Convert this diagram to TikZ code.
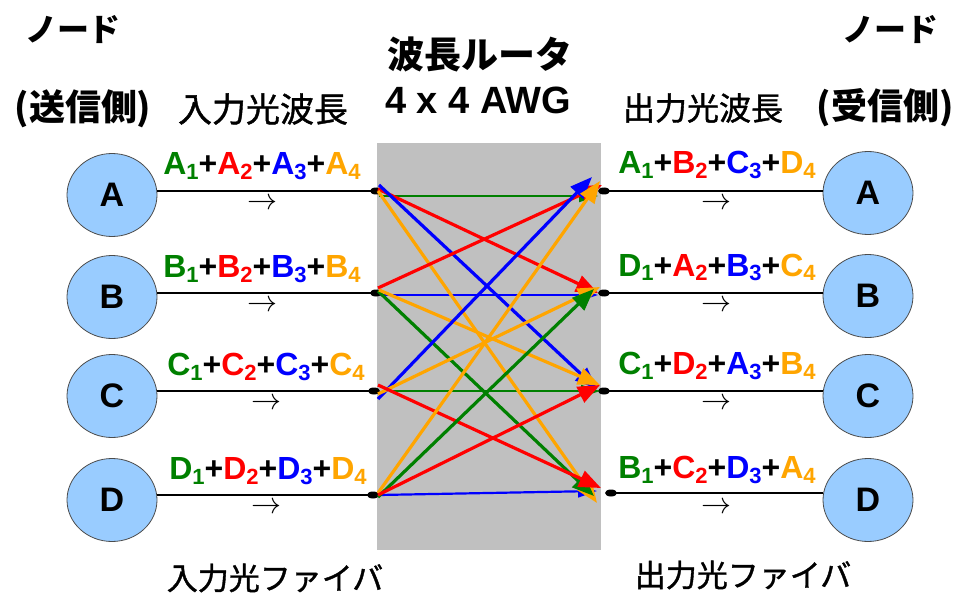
\documentclass[tikz,border=0pt]{standalone}
\usepackage{fix-cm}
\usepackage{fontspec}
\setmainfont{Liberation Sans}
\newfontfamily\jp{Noto Sans CJK JP}
\newfontfamily\jpm[FakeBold=1.2]{Noto Sans CJK JP}
\usetikzlibrary{arrows.meta,shapes.geometric}
\definecolor{cg}{HTML}{008000}
\definecolor{cr}{HTML}{FF0000}
\definecolor{cb}{HTML}{0000FF}
\definecolor{co}{HTML}{FFA500}
\definecolor{nodeblue}{HTML}{99CCFF}
\definecolor{boxgray}{HTML}{C0C0C0}
\newcommand{\wv}[3]{\textcolor{#1}{#2\raisebox{-5pt}{\fontsize{22}{22}\selectfont #3}}}
\newcommand{\pl}{\textcolor{black}{+}}
\tikzset{
  nodeell/.style={ellipse, draw=black!70, line width=0.8pt, fill=nodeblue, minimum width=90pt, minimum height=83pt, inner sep=0pt, font=\fontsize{34}{34}\selectfont\bfseries},
  fiber/.style={line width=1.6pt, black},
  conn/.style={ellipse, fill=black, minimum width=12pt, minimum height=7pt, inner sep=0pt},
  route/.style={line width=3.2pt, -{Triangle[length=22pt,width=17pt]}},
  flat/.style={line width=2.2pt, -{Triangle[length=19pt,width=12pt]}},
  wl/.style={font=\fontsize{32}{32}\selectfont\bfseries, inner sep=0pt, anchor=base},
  dirarrow/.style={font=\fontsize{30}{30}\selectfont, inner sep=0pt},
  jpb/.style={font=\jp\bfseries\fontsize{32}{32}\selectfont, inner sep=0pt},
  jpr/.style={font=\jpm\fontsize{32}{32}\selectfont, inner sep=0pt},
}
\begin{document}
\begin{tikzpicture}[x=1pt,y=-1pt]
\useasboundingbox (0,0) rectangle (970,599);
% router box
\fill[boxgray] (377,143) rectangle (601,550);
% headings
\node[jpb] (nodeL) at (73,30) {ノード};
\node[jpb, font=\jp\bfseries\fontsize{36}{36}\selectfont] (sendL) at (83,109) {(送信側)};
\node[jpr, font=\jpm\fontsize{34}{34}\selectfont] (inwl) at (263,109) {入力光波長};
\node[jpb, font=\jp\bfseries\fontsize{37}{37}\selectfont] (router) at (480,54) {波長ルータ};
\node[inner sep=0pt, font=\fontsize{38}{38}\selectfont\bfseries] (awg) at (478,100) {4 x 4 AWG};
\node[jpb] (nodeR) at (890,30) {ノード};
\node[jpr] (outwl) at (703,108) {出力光波長};
\node[jpb, font=\jp\bfseries\fontsize{36}{36}\selectfont] (recvR) at (885,108) {(受信側)};
\node[jpr, font=\jpm\fontsize{31}{31}\selectfont] (infib) at (275,578) {入力光ファイバ};
\node[jpr, font=\jpm\fontsize{31}{31}\selectfont] (outfib) at (743,575) {出力光ファイバ};
% nodes
\node[nodeell] (LA) at (112,195) {A};
\node[nodeell] (LB) at (112,297) {B};
\node[nodeell] (LC) at (112,396) {C};
\node[nodeell] (LD) at (112,500) {D};
\node[nodeell] (RA) at (868,193) {A};
\node[nodeell] (RB) at (868,296) {B};
\node[nodeell] (RC) at (868,396) {C};
\node[nodeell] (RD) at (868,500) {D};
% connectors
\node[conn] (iA) at (376,191) {};
\node[conn] (iB) at (376,293) {};
\node[conn] (iC) at (374,391) {};
\node[conn] (iD) at (373,495) {};
\node[conn] (oA) at (604,191) {};
\node[conn] (oB) at (604,293) {};
\node[conn] (oC) at (604,391) {};
\node[conn] (oD) at (611,493) {};
% fibers
\foreach \n in {A,B,C,D}{
  \draw[fiber] (i\n.center) -- (i\n.center -| L\n.east);
  \draw[fiber] (o\n.center) -- (o\n.center -| R\n.west);
}
% wavelength labels
\node[wl] (lA) at (262,175) {\wv{cg}{A}{1}\pl\wv{cr}{A}{2}\pl\wv{cb}{A}{3}\pl\wv{co}{A}{4}};
\node[wl] (lB) at (262,277) {\wv{cg}{B}{1}\pl\wv{cr}{B}{2}\pl\wv{cb}{B}{3}\pl\wv{co}{B}{4}};
\node[wl] (lC) at (266,375) {\wv{cg}{C}{1}\pl\wv{cr}{C}{2}\pl\wv{cb}{C}{3}\pl\wv{co}{C}{4}};
\node[wl] (lD) at (268,479) {\wv{cg}{D}{1}\pl\wv{cr}{D}{2}\pl\wv{cb}{D}{3}\pl\wv{co}{D}{4}};
\node[wl] (rA) at (717,174) {\wv{cg}{A}{1}\pl\wv{cr}{B}{2}\pl\wv{cb}{C}{3}\pl\wv{co}{D}{4}};
\node[wl] (rB) at (717,276) {\wv{cg}{D}{1}\pl\wv{cr}{A}{2}\pl\wv{cb}{B}{3}\pl\wv{co}{C}{4}};
\node[wl] (rC) at (717,374) {\wv{cg}{C}{1}\pl\wv{cr}{D}{2}\pl\wv{cb}{A}{3}\pl\wv{co}{B}{4}};
\node[wl] (rD) at (717,478) {\wv{cg}{B}{1}\pl\wv{cr}{C}{2}\pl\wv{cb}{D}{3}\pl\wv{co}{A}{4}};
% direction arrows
\node[dirarrow] (dLA) at (262,204) {$\rightarrow$};
\node[dirarrow] (dLB) at (262,306) {$\rightarrow$};
\node[dirarrow] (dLC) at (266,404) {$\rightarrow$};
\node[dirarrow] (dLD) at (266,508) {$\rightarrow$};
\node[dirarrow] (dRA) at (716,204) {$\rightarrow$};
\node[dirarrow] (dRB) at (716,306) {$\rightarrow$};
\node[dirarrow] (dRC) at (716,404) {$\rightarrow$};
\node[dirarrow] (dRD) at (716,508) {$\rightarrow$};
% routing: horizontal paths
\draw[flat, cg] ([xshift=3pt,yshift=-5pt]iA.center) -- ([xshift=-6pt,yshift=-5pt]oA.center);
\draw[flat, cb] ([xshift=4pt,yshift=-2pt]iB.center) -- ([xshift=-6pt,yshift=-2pt]oB.center);
\draw[flat, cg] ([xshift=16pt]iC.center) -- ([xshift=-4pt]oC.center);
\draw[flat, cb] ([xshift=6pt]iD.center) -- ([xshift=-14pt,yshift=2pt]oD.center);
% from A
\draw[route, cr] ([xshift=2pt,yshift=2pt]iA.center) -- ([xshift=-6pt]oB.center);
\draw[route, cb] ([xshift=3pt,yshift=6pt]iA.center) -- ([xshift=-7pt,yshift=2pt]oC.center);
\draw[route, co] ([xshift=2pt]iA.center) -- ([xshift=-14pt,yshift=-10pt]oD.center);
% from B
\draw[route, cr] ([xshift=2pt,yshift=5pt]iB.center) -- ([xshift=-2pt,yshift=6pt]oA.center);
\draw[route, cg] ([xshift=2pt,yshift=2pt]iB.center) -- ([xshift=-17pt,yshift=-3pt]oD.center);
\draw[route, co] ([xshift=3pt,yshift=3pt]iB.center) -- ([xshift=-4pt,yshift=6pt]oC.center);
% from C
\draw[route, cb] ([xshift=4pt,yshift=-8pt]iC.center) -- ([xshift=-12pt,yshift=14pt]oA.center);
\draw[route, co] ([xshift=4pt,yshift=-3pt]iC.center) -- ([xshift=-4pt,yshift=6pt]oB.center);
\draw[route, cr] ([xshift=4pt,yshift=6pt]iC.center) -- ([xshift=-10pt,yshift=5pt]oD.center);
% from D
\draw[route, co] ([xshift=5pt,yshift=2pt]iD.center) -- ([xshift=-4pt,yshift=10pt]oA.center);
\draw[route, cg] ([xshift=5pt,yshift=-2pt]iD.center) -- ([xshift=-10pt,yshift=4pt]oB.center);
\draw[route, cr] ([xshift=5pt]iD.center) -- ([xshift=-4pt,yshift=6pt]oC.center);
\end{tikzpicture}
\end{document}
